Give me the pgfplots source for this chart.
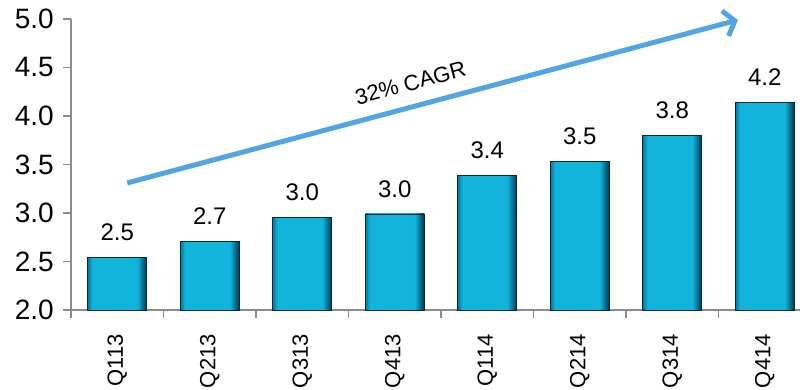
\documentclass[border=0pt]{standalone}
\usepackage{fontspec}
\setmainfont{Liberation Sans}
\usepackage{pgfplots}
\pgfplotsset{compat=1.18}
\usetikzlibrary{arrows.meta}
\definecolor{barmid}{RGB}{18,180,220}
\definecolor{barleft}{RGB}{0,120,160}
\definecolor{barright}{RGB}{0,55,80}
\definecolor{arrowblue}{RGB}{80,165,230}
\definecolor{axisgray}{RGB}{140,140,140}
\pgfdeclarehorizontalshading{barshade}{100bp}{color(0bp)=(barleft); color(25bp)=(barleft); color(29bp)=(barmid); color(67bp)=(barmid); color(75bp)=(barright); color(100bp)=(barright)}
\begin{document}
\begin{tikzpicture}
\begin{axis}[
  at={(71pt,79pt)}, anchor=south west,
  scale only axis, width=740pt, height=291pt,
  xmin=-0.5, xmax=7.5, ymin=2, ymax=5,
  axis x line*=bottom, axis y line*=left,
  axis line style={axisgray, line width=1.5pt},
  tick align=outside, major tick length=8pt,
  tick style={axisgray, line width=1.5pt},
  ytick={2,2.5,...,5},
  /pgf/number format/assume math mode=true,
  yticklabel style={/pgf/number format/.cd, fixed, fixed zerofill, precision=1, /tikz/.cd,
    font=\fontsize{28}{32}\selectfont, anchor=east, inner xsep=9pt},
  xtick={-0.5,0.5,...,7.5},
  x tick label as interval,
  xticklabels={Q113,Q213,Q313,Q413,Q114,Q214,Q314,Q414},
  xticklabel style={font=\fontsize{22}{26}\selectfont, rotate=90, anchor=east, inner xsep=16pt},
  ybar, bar width=59pt, bar shift=0pt,
  nodes near coords, point meta=explicit symbolic,
  every node near coord/.append style={font=\fontsize{24}{28}\selectfont, yshift=13pt, black},
  clip=false,
  barstyle/.style={draw=barright!70!black, line width=0.8pt, shading=barshade},
]
\addplot[barstyle] coordinates {(0,2.54)[2.5]};
\addplot[barstyle] coordinates {(1,2.71)[2.7]};
\addplot[barstyle] coordinates {(2,2.95)[3.0]};
\addplot[barstyle] coordinates {(3,2.99)[3.0]};
\addplot[barstyle] coordinates {(4,3.39)[3.4]};
\addplot[barstyle] coordinates {(5,3.53)[3.5]};
\addplot[barstyle] coordinates {(6,3.80)[3.8]};
\addplot[barstyle] coordinates {(7,4.14)[4.2]};
\draw[arrowblue, line width=5pt, -{Straight Barb[length=10pt,width=26pt]}] (axis cs:0.108,3.31) -- (axis cs:6.71,4.99);
\node[rotate=15, font=\fontsize{22}{26}\selectfont] at (axis cs:3.17,4.34) {32\% CAGR};
\end{axis}
\pgfresetboundingbox
\path[use as bounding box] (0pt,0pt) rectangle (800pt,389pt);
\end{tikzpicture}
\end{document}
